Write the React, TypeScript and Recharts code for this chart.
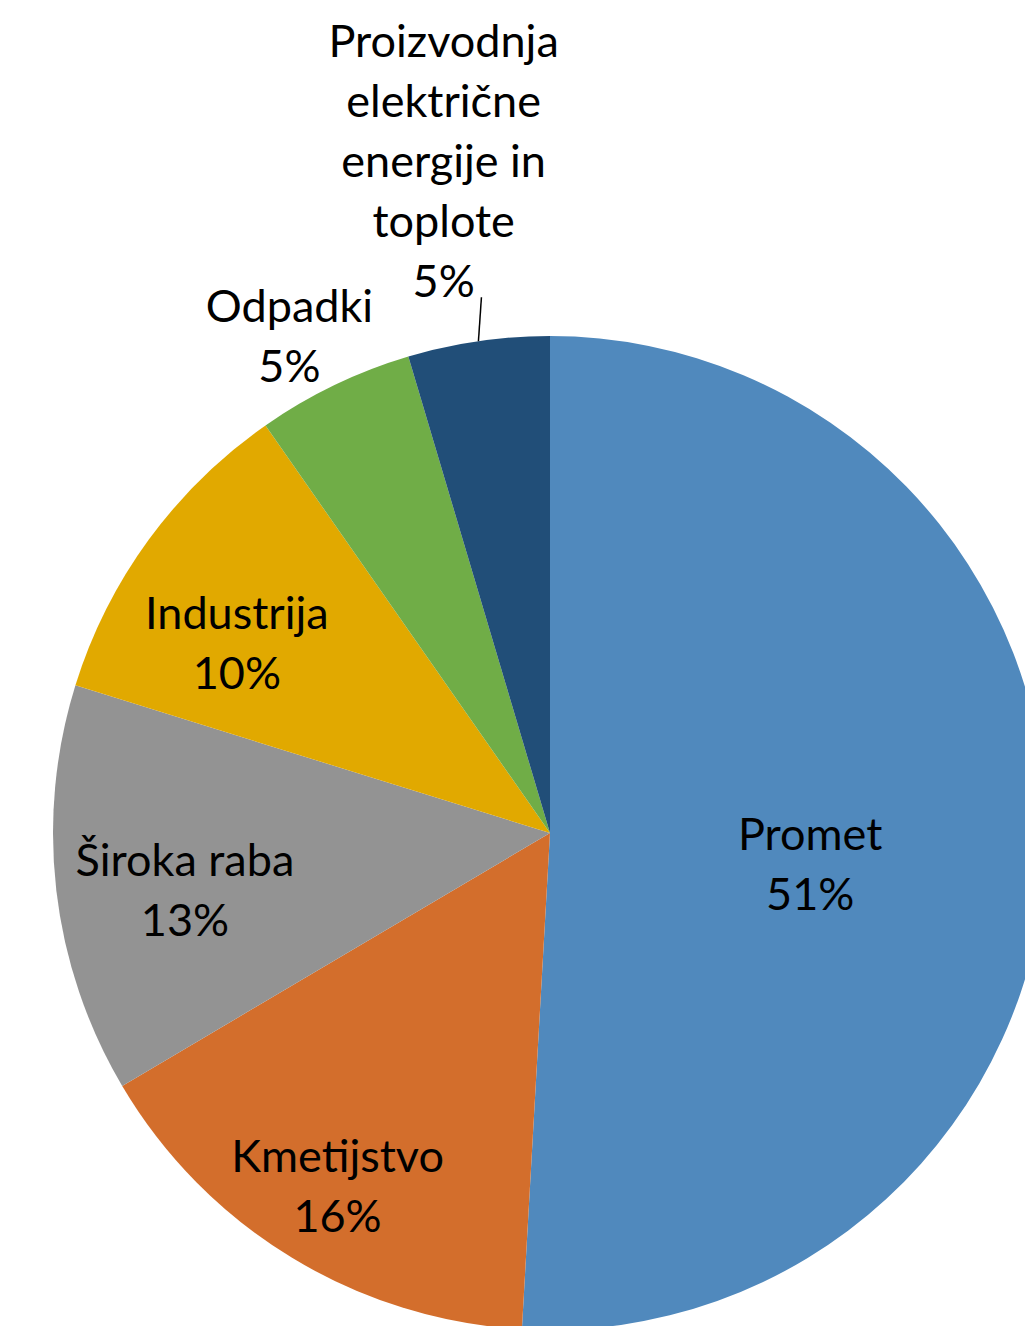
import React from 'react';
import { PieChart, Pie, Cell } from 'recharts';

const categories = ['Promet', 'Kmetijstvo', 'Široka raba', 'Industrija', 'Odpadki', 'Proizvodnja električne energije in toplote'];
const values = [50.9, 15.6, 13.3, 10.5, 5.1, 4.6];
const percentLabels = ['51%', '16%', '13%', '10%', '5%', '5%'];
const labelLines = [['Promet'], ['Kmetijstvo'], ['Široka raba'], ['Industrija'], ['Odpadki'], ['Proizvodnja', 'električne', 'energije in', 'toplote']];
const colors = ['#5089BD', '#D36E2C', '#939393', '#E1A900', '#70AD47', '#214E78'];

const data = categories.map((name, i) => ({ name, value: values[i] }));

// radial placement of label centres (fraction of outer radius) and angle nudges
const labelRadius = [0.527, 0.827, 0.743, 0.738, 1.13, 1.371];
const angleNudge = [-5, 0.2, 2, 4.8, 1.9, 0.7];

const RAD = Math.PI / 180;
const FS = 45;
const LH = 60;

const renderLabel = (props: any) => {
  const { cx, cy, midAngle, outerRadius, index } = props;
  const a = (midAngle + angleNudge[index]) * RAD;
  const r = outerRadius * labelRadius[index];
  const x = cx + r * Math.cos(-a);
  const y = cy + r * Math.sin(-a);
  const lines = [...labelLines[index], percentLabels[index]];
  const total = lines.length;
  const y0 = y - ((total - 1) * LH) / 2;
  const els: any[] = [];
  if (index === 5) {
    const ma = midAngle * RAD;
    const x1 = cx + outerRadius * Math.cos(-ma);
    const y1 = cy + outerRadius * Math.sin(-ma);
    els.push(<line key="ll" x1={x1} y1={y1} x2={x1 + 3} y2={y1 - 44} stroke="#000" strokeWidth={1.5} />);
  }
  return (
    <g>
      {els}
      <text x={x} y={y0} textAnchor="middle" fill="#000" fontFamily="Lato, 'Open Sans', sans-serif" fontSize={FS}>
        {lines.map((l, i) => (
          <tspan key={i} x={x} y={y0 + i * LH} dominantBaseline="central">{l}</tspan>
        ))}
      </text>
    </g>
  );
};

export default function App() {
  return (
    <div style={{ position: 'absolute', left: 0, top: 0, width: 1025, height: 1326, background: '#fff' }}>
      <PieChart width={1025} height={1326} margin={{ top: 0, right: 0, bottom: 0, left: 0 }}>
        <Pie
          data={data}
          dataKey="value"
          nameKey="name"
          cx={550}
          cy={833}
          outerRadius={497}
          startAngle={90}
          endAngle={-270}
          stroke="none"
          label={renderLabel}
          labelLine={false}
          isAnimationActive={false}
        >
          {data.map((d, i) => (
            <Cell key={d.name} fill={colors[i]} />
          ))}
        </Pie>
      </PieChart>
    </div>
  );
}
